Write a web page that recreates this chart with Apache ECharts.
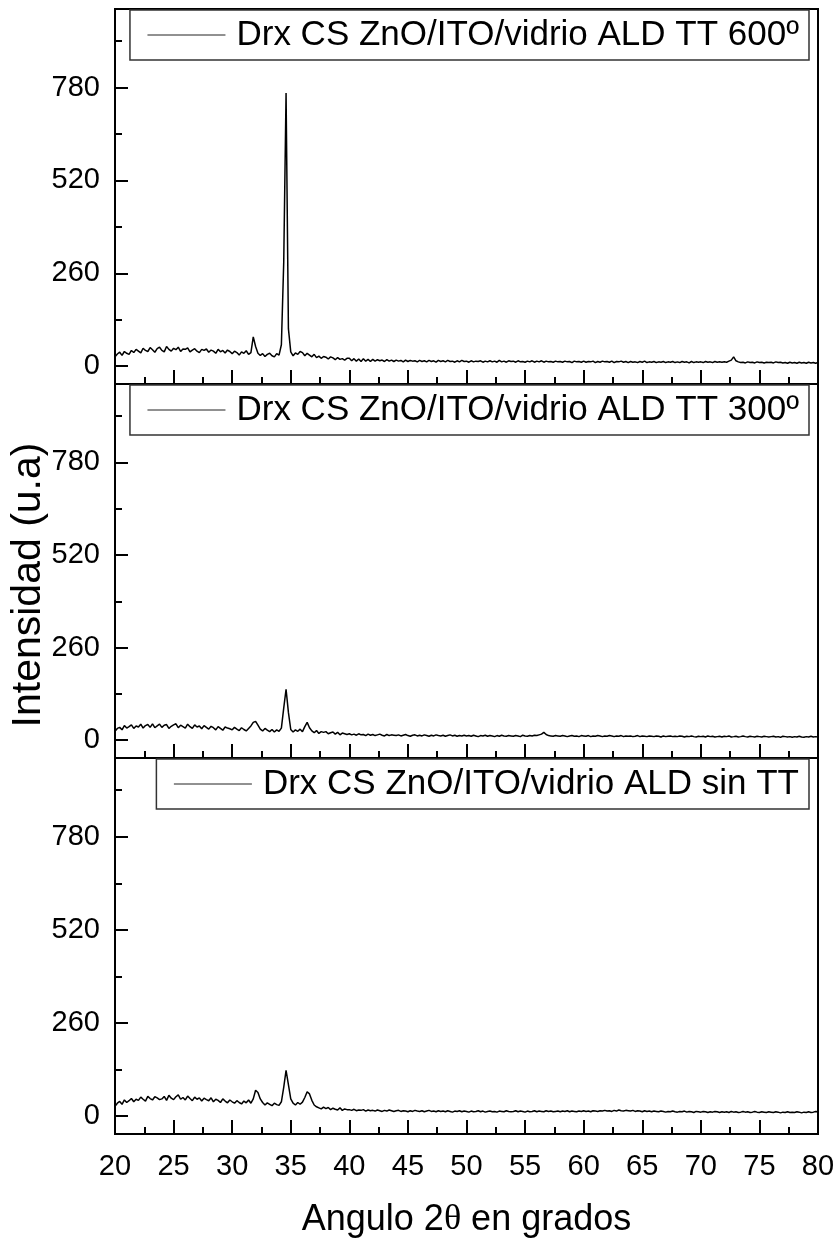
<!DOCTYPE html>
<html>
<head>
<meta charset="utf-8">
<title>Drx CS ZnO/ITO/vidrio ALD</title>
<script src="https://cdn.jsdelivr.net/npm/echarts@6/dist/echarts.min.js"></script>
<style>
  html, body { margin: 0; padding: 0; background: #fff; }
  #chart { width: 840px; height: 1247px; }
</style>
</head>
<body>
<div id="chart"></div>
<script>
// datos: angulo 2θ de 20 a 80 en pasos de 0.2 grados
var angleStart = 20;
var angleStep = 0.2;

var seriesNames = [
    'Drx CS ZnO/ITO/vidrio ALD TT 600º',
    'Drx CS ZnO/ITO/vidrio ALD TT 300º',
    'Drx CS ZnO/ITO/vidrio ALD sin TT'
];

var xTickValues = [20, 25, 30, 35, 40, 45, 50, 55, 60, 65, 70, 75, 80];
var yTickValues = [0, 260, 520, 780];
var yMinorValues = [130, 390, 650, 910];

// TT 600º
var counts600 = [
    26, 34, 39, 30, 41, 36, 33, 44, 38, 47,   // 20
    42, 37, 50, 44, 41, 52, 46, 39, 49, 53,   // 22
    44, 40, 55, 47, 42, 50, 46, 53, 41, 48,   // 24
    47, 51, 40, 45, 49, 42, 38, 47, 44, 48,   // 26
    39, 45, 42, 36, 47, 40, 44, 37, 45, 41,   // 28
    35, 42, 38, 31, 40, 36, 43, 33, 38, 82,   // 30
    55, 36, 30, 35, 27, 33, 36, 29, 26, 35,   // 32
    31, 60, 290, 765, 105, 40, 29, 37, 33, 41, // 34
    38, 29, 36, 31, 26, 33, 24, 28, 22, 27,   // 36
    25, 20, 26, 23, 18, 24, 19, 21, 17, 22,   // 38
    22, 15, 21, 14, 20, 13, 21, 14, 19, 13,   // 40
    19, 14, 18, 15, 17, 13, 18, 14, 17, 13,   // 42
    17, 14, 16, 12, 17, 13, 16, 14, 15, 12,   // 44
    16, 13, 15, 12, 16, 13, 15, 11, 16, 13,   // 46
    15, 12, 16, 13, 14, 11, 15, 12, 16, 13,   // 48
    14, 11, 15, 12, 14, 13, 15, 11, 14, 12,   // 50
    15, 12, 14, 11, 16, 12, 14, 11, 15, 13,   // 52
    14, 11, 15, 12, 13, 11, 14, 12, 15, 11,   // 54
    14, 12, 15, 11, 14, 12, 13, 11, 14, 12,   // 56
    13, 11, 14, 12, 13, 10, 14, 12, 13, 11,   // 58
    14, 11, 13, 12, 14, 10, 13, 11, 14, 12,   // 60
    13, 11, 14, 10, 13, 12, 14, 11, 13, 10,   // 62
    13, 11, 12, 10, 13, 11, 14, 10, 12, 11,   // 64
    13, 10, 12, 11, 13, 10, 12, 11, 13, 10,   // 66
    12, 10, 13, 11, 12, 9, 13, 10, 12, 11,    // 68
    12, 10, 13, 11, 12, 10, 13, 11, 12, 11,   // 70
    12, 11, 14, 17, 26, 15, 12, 10, 11, 9,    // 72
    12, 10, 11, 9, 12, 10, 11, 9, 11, 10,     // 74
    11, 9, 12, 10, 11, 9, 10, 8, 11, 9,       // 76
    10, 8, 11, 9, 10, 8, 11, 9, 10, 8,        // 78
    10                                        // 80
];

// TT 300º
var counts300 = [
    25, 33, 36, 29, 41, 34, 38, 43, 33, 40,   // 20
    37, 45, 34, 41, 44, 36, 46, 35, 40, 45,   // 22
    36, 42, 44, 33, 39, 43, 46, 35, 42, 38,   // 24
    34, 45, 38, 33, 43, 37, 40, 32, 41, 36,   // 26
    31, 39, 35, 29, 38, 33, 28, 37, 34, 32,   // 28
    29, 36, 31, 27, 35, 30, 26, 33, 40, 50,   // 30
    53, 42, 31, 26, 33, 28, 24, 30, 23, 29,   // 32
    25, 34, 90, 143, 78, 30, 23, 29, 25, 31,  // 34
    24, 38, 50, 35, 26, 21, 27, 19, 24, 22,   // 36
    24, 18, 21, 23, 17, 22, 15, 20, 18, 16,   // 38
    18, 15, 17, 14, 18, 15, 16, 13, 17, 14,   // 40
    16, 13, 15, 17, 14, 12, 16, 13, 15, 14,   // 42
    13, 15, 12, 14, 16, 13, 11, 14, 15, 12,   // 44
    14, 12, 15, 13, 11, 14, 12, 15, 13, 12,   // 46
    14, 11, 13, 15, 12, 14, 11, 13, 12, 14,   // 48
    12, 13, 11, 14, 12, 10, 13, 12, 14, 11,   // 50
    13, 12, 10, 13, 11, 14, 12, 11, 13, 12,   // 52
    11, 13, 12, 10, 14, 12, 11, 13, 12, 14,   // 54
    13, 15, 17, 22, 16, 13, 12, 11, 13, 12,   // 56
    11, 13, 12, 10, 12, 13, 11, 12, 10, 13,   // 58
    12, 11, 13, 10, 12, 11, 13, 12, 10, 12,   // 60
    11, 13, 12, 10, 12, 11, 13, 10, 12, 11,   // 62
    12, 10, 11, 13, 10, 12, 11, 10, 12, 11,   // 64
    10, 12, 11, 9, 12, 10, 11, 12, 10, 11,    // 66
    10, 12, 11, 9, 11, 10, 12, 10, 9, 11,     // 68
    10, 11, 9, 12, 10, 11, 9, 10, 11, 9,      // 70
    11, 10, 12, 9, 10, 11, 9, 10, 12, 10,     // 72
    9, 11, 10, 9, 11, 10, 9, 11, 10, 9,       // 74
    10, 11, 9, 10, 8, 11, 10, 9, 10, 8,       // 76
    10, 9, 11, 9, 8, 10, 9, 11, 9, 10,        // 78
    9                                         // 80
];

// sin TT
var countsSinTT = [
    27, 36, 41, 33, 45, 38, 43, 49, 40, 47,   // 20
    44, 53, 47, 42, 55, 49, 45, 54, 51, 46,   // 22
    48, 55, 44, 58, 50, 46, 54, 59, 47, 52,   // 24
    45, 56, 49, 43, 53, 47, 51, 42, 50, 46,   // 26
    43, 51, 40, 47, 44, 38, 48, 42, 37, 45,   // 28
    40, 36, 43, 38, 34, 42, 37, 45, 36, 48,   // 30
    72, 66, 48, 38, 31, 37, 33, 29, 36, 32,   // 32
    30, 40, 80, 128, 88, 48, 36, 31, 38, 33,  // 34
    39, 52, 68, 62, 44, 31, 26, 23, 20, 25,   // 36
    21, 24, 18, 22, 19, 17, 23, 16, 20, 18,   // 38
    18, 16, 19, 15, 17, 16, 18, 14, 17, 15,   // 40
    16, 14, 17, 15, 13, 16, 14, 17, 15, 13,   // 42
    15, 16, 13, 15, 14, 12, 15, 13, 16, 14,   // 44
    13, 15, 12, 14, 16, 13, 14, 12, 15, 13,   // 46
    14, 12, 15, 13, 11, 14, 13, 15, 12, 14,   // 48
    13, 11, 14, 12, 13, 15, 12, 14, 11, 13,   // 50
    14, 12, 13, 11, 14, 13, 12, 15, 13, 12,   // 52
    13, 15, 12, 14, 13, 11, 14, 12, 13, 15,   // 54
    12, 14, 13, 12, 15, 13, 14, 12, 13, 14,   // 56
    12, 14, 13, 15, 12, 14, 13, 12, 14, 13,   // 58
    15, 13, 14, 12, 15, 14, 13, 15, 14, 16,   // 60
    14, 15, 13, 16, 14, 17, 15, 14, 16, 15,   // 62
    14, 16, 13, 15, 14, 12, 15, 13, 14, 12,   // 64
    14, 13, 12, 14, 13, 11, 13, 12, 14, 12,   // 66
    11, 13, 12, 14, 11, 13, 12, 10, 13, 12,   // 68
    11, 13, 12, 10, 12, 11, 13, 12, 10, 12,   // 70
    11, 12, 10, 13, 11, 12, 10, 11, 13, 11,   // 72
    12, 10, 11, 13, 11, 10, 12, 11, 10, 12,   // 74
    11, 10, 12, 11, 9, 11, 10, 12, 10, 11,    // 76
    10, 12, 11, 9, 11, 10, 12, 10, 11, 13,    // 78
    12                                        // 80
];

(function () {
    var myChart = echarts.init(document.getElementById('chart'), null, { renderer: 'canvas' });
    var fontFamily = '"Liberation Sans", Arial, Helvetica, sans-serif';

    function toPairs(values) {
        return values.map(function (v, i) {
            return [+(angleStart + i * angleStep).toFixed(1), v];
        });
    }
    var allCounts = [counts600, counts300, countsSinTT];

    // tres paneles apilados
    var grids = [
        { left: 115, right: 22, top: 9, height: 375 },
        { left: 115, right: 22, top: 384, height: 374 },
        { left: 115, right: 22, top: 758, height: 376 }
    ];
    var legendTops = [10, 385, 759];

    var option = {
        backgroundColor: '#fff',
        animation: false,
        color: ['#000'],
        grid: grids.map(function (g) {
            return Object.assign({
                show: true,
                borderColor: '#000',
                borderWidth: 2,
                backgroundColor: 'transparent',
                containLabel: false,
                outerBoundsMode: 'none'
            }, g);
        }),
        legend: seriesNames.map(function (name, i) {
            return {
                data: [name],
                right: 31,
                top: legendTops[i],
                padding: [7, 10, 7, 17],
                itemWidth: 78,
                itemHeight: 14,
                borderColor: '#333',
                borderWidth: 1.5,
                backgroundColor: '#fff',
                selectedMode: false,
                itemStyle: { opacity: 0 },
                lineStyle: { width: 1, color: '#222', opacity: 1 },
                textStyle: {
                    fontSize: 35,
                    fontFamily: fontFamily,
                    color: '#000',
                    lineHeight: 36,
                    padding: [0, 0, 0, 6]
                }
            };
        }),
        xAxis: grids.map(function (g, i) {
            var isBottom = i === 2;
            return {
                type: 'value',
                gridIndex: i,
                min: 20,
                max: 80,
                interval: 5,
                name: isBottom ? 'Angulo 2{t|θ} en grados' : '',
                nameLocation: 'middle',
                nameGap: 68,
                nameMoveOverlap: false,
                nameTextStyle: {
                    fontSize: 36,
                    fontFamily: fontFamily,
                    color: '#000',
                    rich: {
                        t: { fontSize: 36, fontFamily: '"Liberation Serif", "DejaVu Serif", serif', color: '#000' }
                    }
                },
                axisLine: { show: true, onZero: false, lineStyle: { color: '#000', width: 2 } },
                axisTick: { show: true, inside: true, length: 14, lineStyle: { color: '#000', width: 2 } },
                minorTick: { show: true, splitNumber: 2, length: 7, lineStyle: { color: '#000', width: 2 } },
                axisLabel: {
                    show: isBottom,
                    fontSize: 29,
                    fontFamily: fontFamily,
                    color: '#000',
                    margin: 18,
                    customValues: xTickValues
                },
                splitLine: { show: false },
                minorSplitLine: { show: false }
            };
        }),
        yAxis: []
    };

    // cada panel: un eje principal (etiquetas) y otro para las marcas menores
    grids.forEach(function (g, i) {
        option.yAxis.push({
            type: 'value',
            gridIndex: i,
            position: 'left',
            offset: 0,
            min: -50,
            max: 1000,
            name: i === 1 ? 'Intensidad (u.a)' : '',
            nameLocation: 'middle',
            nameRotate: 90,
            nameGap: 66,
            nameMoveOverlap: false,
            nameTextStyle: {
                fontSize: 41,
                fontFamily: fontFamily,
                color: '#000',
                padding: [0, 28, 0, 0]
            },
            axisLine: { show: true, onZero: false, lineStyle: { color: '#000', width: 2 } },
            axisTick: { show: true, inside: true, length: 13, customValues: yTickValues, lineStyle: { color: '#000', width: 2 } },
            axisLabel: {
                fontSize: 29,
                fontFamily: fontFamily,
                color: '#000',
                margin: 15,
                customValues: yTickValues
            },
            splitLine: { show: false }
        });
        option.yAxis.push({
            type: 'value',
            gridIndex: i,
            position: 'left',
            offset: 0,
            min: -50,
            max: 1000,
            axisLine: { show: false },
            axisTick: { show: true, inside: true, length: 7, customValues: yMinorValues, lineStyle: { color: '#000', width: 2 } },
            axisLabel: { show: false },
            splitLine: { show: false }
        });
    });

    option.series = seriesNames.map(function (name, i) {
        return {
            name: name,
            type: 'line',
            xAxisIndex: i,
            yAxisIndex: i * 2,
            data: toPairs(allCounts[i]),
            symbol: 'none',
            silent: true,
            itemStyle: { color: '#000' },
            lineStyle: { color: '#000', width: 1.5 }
        };
    });

    myChart.setOption(option);

    window.addEventListener('resize', function () {
        myChart.resize();
    });
})();
</script>
</body>
</html>
